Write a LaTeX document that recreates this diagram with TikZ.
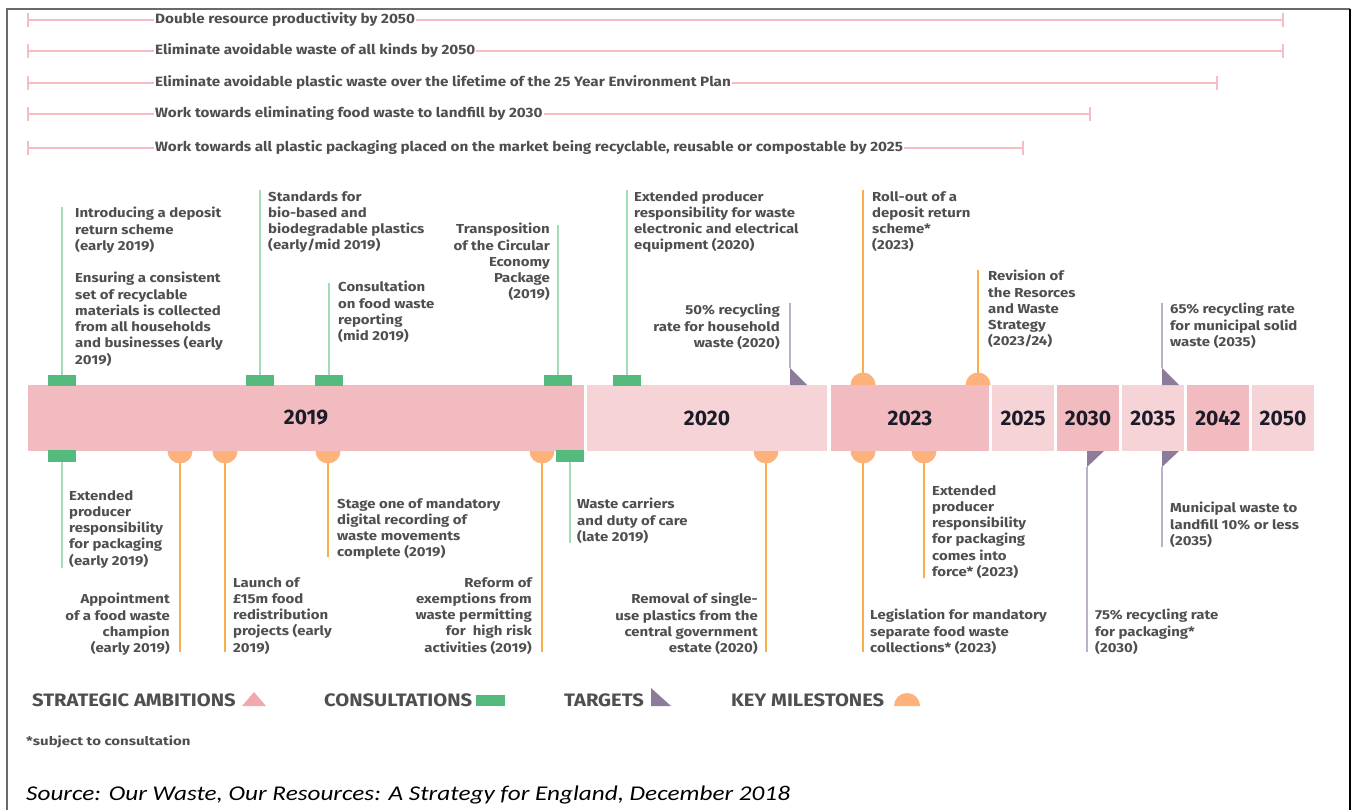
\documentclass[tikz,border=0pt]{standalone}
\usepackage{fontspec}
\setmainfont{Fira Sans}
\newfontfamily\labfont{Fira Sans}[FakeStretch=1.15]
\newfontfamily\ambfont{Fira Sans}[FakeStretch=1.13]
\newfontfamily\legfont{Fira Sans}[FakeStretch=1.12]
\newfontfamily\notefont{Fira Sans}[FakeStretch=1.25]
\newfontfamily\srcfont{Carlito}[FakeStretch=1.2]

\definecolor{frameline}{HTML}{6A6A6A}
\definecolor{ambline}{HTML}{F6BDC4}
\definecolor{bardark}{HTML}{F2BBBF}
\definecolor{barlight}{HTML}{F6D3D6}
\definecolor{consgreen}{HTML}{55BA7E}
\definecolor{consline}{HTML}{A5DBB6}
\definecolor{milefill}{HTML}{FDB27C}
\definecolor{mileline}{HTML}{F8AE4C}
\definecolor{tgtfill}{HTML}{8D7B9B}
\definecolor{tgtline}{HTML}{BDB0C8}
\definecolor{labgray}{HTML}{4F4F4F}
\definecolor{yeartext}{HTML}{1C1C28}
\definecolor{ambmark}{HTML}{F2A9AE}

\tikzset{
  lab/.style={font=\labfont\bfseries\fontsize{13}{16.3}\selectfont, text=labgray,
              inner sep=0pt, align=left},
  labl/.style={lab, anchor=north west},
  labr/.style={lab, align=right, anchor=north east},
  ambtext/.style={font=\ambfont\bfseries\fontsize{13.5}{15}\selectfont, text=labgray,
                  fill=white, inner xsep=1pt, inner ysep=0pt, anchor=west},
  ambrule/.style={ambline, line width=1.4pt},
  yearlab/.style={font=\bfseries\fontsize{21}{23}\selectfont, text=yeartext},
  consstem/.style={consline, line width=1.4pt},
  milestem/.style={mileline, line width=1.4pt},
  tgtstem/.style={tgtline, line width=1.4pt},
  legtext/.style={font=\legfont\bfseries\fontsize{18}{20}\selectfont, text=labgray,
                  inner sep=0pt, anchor=base west},
}

\begin{document}
\begin{tikzpicture}[x=1pt,y=-1pt]
\useasboundingbox (0,0) rectangle (1354,810);
\fill[white] (0,0) rectangle (1354,810);

% outer frame
\draw[frameline, line width=1.5pt] (7,810) -- (7,9) -- (1350,9);
\draw[black, line width=1.5pt] (1350,9) -- (1350,810);

% strategic ambitions
\foreach \yy/\xe/\txt in {
  20/1283/{Double resource productivity by 2050},
  51/1283/{Eliminate avoidable waste of all kinds by 2050},
  83/1217/{Eliminate avoidable plastic waste over the lifetime of the 25 Year Environment Plan},
  114/1090/{Work towards eliminating food waste to landfill by 2030},
  148/1023/{Work towards all plastic packaging placed on the market being recyclable, reusable or compostable by 2025}}{
  \coordinate (as) at (28,\yy);
  \coordinate (ae) at (\xe,\yy);
  \draw[ambrule] (as) -- (ae);
  \draw[ambrule] ([yshift=-7pt]as) -- ([yshift=7pt]as);
  \draw[ambrule] ([yshift=-7pt]ae) -- ([yshift=7pt]ae);
  \node[ambtext] at (154,\yy) {\txt};
}

% timeline bar
\foreach \xa/\xb/\col/\yr in {
  28/584/bardark/2019, 587/827/barlight/2020, 831/989/bardark/2023,
  992/1054/barlight/2025, 1057/1119/bardark/2030, 1122/1184/barlight/2035,
  1187/1249/bardark/2042, 1252/1314/barlight/2050}{
  \fill[\col] (\xa,385) rectangle (\xb,451);
  \node[yearlab] (y\yr) at ({(\xa+\xb)/2},418) {\yr};
}

% consultations above the bar
\foreach \xx/\yt in {62/207, 260/190, 329/283, 558/225, 627/190}{
  \coordinate (ct) at (\xx,\yt);
  \coordinate (cb) at (\xx,375);
  \draw[consstem] (ct) -- (cb);
  \fill[consgreen] (\xx-14,375) rectangle (\xx+14,386);
}
% consultations below the bar
\foreach \xx/\yb in {62/568, 570/543}{
  \coordinate (ct) at (\xx,462);
  \coordinate (cb) at (\xx,\yb);
  \draw[consstem] (ct) -- (cb);
  \fill[consgreen] (\xx-14,450) rectangle (\xx+14,462);
}

% key milestones above the bar
\foreach \xx/\yt in {863/190, 978/270}{
  \coordinate (mt) at (\xx,\yt);
  \coordinate (mb) at (\xx,380);
  \draw[milestem] (mt) -- (mb);
  \fill[milefill] (\xx-12.5,385) arc[start angle=180, end angle=360, radius=12.5] -- cycle;
}
% key milestones below the bar
\foreach \xx/\yb in {180/652, 225/652, 328/557, 542/652, 766/652, 863/652, 924/578}{
  \coordinate (mt) at (\xx,456);
  \coordinate (mb) at (\xx,\yb);
  \draw[milestem] (mt) -- (mb);
  \fill[milefill] (\xx-12.5,451) arc[start angle=180, end angle=0, radius=12.5] -- cycle;
}

% targets above the bar
\foreach \xx in {790, 1162}{
  \coordinate (tt) at (\xx,303);
  \coordinate (tb) at (\xx,368);
  \draw[tgtstem] (tt) -- (tb);
  \fill[tgtfill] (\xx,368) -- (\xx,385) -- (\xx+17,385) -- cycle;
}
% targets below the bar
\foreach \xx/\yb in {1087/652, 1162/547}{
  \coordinate (tt) at (\xx,467);
  \coordinate (tb) at (\xx,\yb);
  \draw[tgtstem] (tt) -- (tb);
  \fill[tgtfill] (\xx,451) -- (\xx+17,451) -- (\xx,467) -- cycle;
}

% labels above the bar
\node[labl] (l1) at (75,207) {Introducing a deposit\\return scheme\\(early 2019)};
\node[labl] (l2) at (75,272) {Ensuring a consistent\\set of recyclable\\materials is collected\\from all households\\and businesses (early\\2019)};
\node[labl] (l3) at (268,191) {Standards for\\bio-based and\\biodegradable plastics\\(early/mid 2019)};
\node[labl] (l4) at (338,281) {Consultation\\on food waste\\reporting\\(mid 2019)};
\node[labr] (l5) at (550,223) {Transposition\\of the Circular\\Economy\\Package\\(2019)};
\node[labl] (l6) at (634,191) {Extended producer\\responsibility for waste\\electronic and electrical\\equipment (2020)};
\node[labr] (l7) at (780,304) {50\% recycling\\rate for household\\waste (2020)};
\node[labl] (l8) at (872,191) {Roll-out of a\\deposit return\\scheme*\\(2023)};
\node[labl] (l9) at (988,270) {Revision of\\the Resorces\\and Waste\\Strategy\\(2023/24)};
\node[labl] (l10) at (1170,303) {65\% recycling rate\\for municipal solid\\waste (2035)};

% labels below the bar
\node[labl] (b1) at (69,490) {Extended\\producer\\responsibility\\for packaging\\(early 2019)};
\node[labr] (b2) at (170,593) {Appointment\\of a food waste\\champion\\(early 2019)};
\node[labl] (b3) at (233,577) {Launch of\\£15m food\\redistribution\\projects (early\\2019)};
\node[labl] (b4) at (337,498) {Stage one of mandatory\\digital recording of\\waste movements\\complete (2019)};
\node[labr] (b5) at (532,577) {Reform of\\exemptions from\\waste permitting\\for~ high risk\\activities (2019)};
\node[labl] (b6) at (577,498) {Waste carriers\\and duty of care\\(late 2019)};
\node[labr] (b7) at (758,593) {Removal of single-\\use plastics from the\\central government\\estate (2020)};
\node[labl] (b8) at (932,485) {Extended\\producer\\responsibility\\for packaging\\comes into\\force* (2023)};
\node[labl] (b9) at (870,609) {Legislation for mandatory\\separate food waste\\collections* (2023)};
\node[labl] (b10) at (1095,609) {75\% recycling rate\\for packaging*\\(2030)};
\node[labl] (b11) at (1170,502) {Municipal waste to\\landfill 10\% or less\\(2035)};

% legend
\node[legtext] (k1) at (32,706) {STRATEGIC AMBITIONS};
\fill[ambmark] (242,706) -- (266,706) -- (254,692) -- cycle;
\node[legtext] (k2) at (324,706) {CONSULTATIONS};
\fill[consgreen] (476,695) rectangle (505,706);
\node[legtext] (k3) at (564,706) {TARGETS};
\fill[tgtfill] (651,688) -- (651,706) -- (671,706) -- cycle;
\node[legtext] (k4) at (731,706) {KEY MILESTONES};
\fill[milefill] (894,706) arc[start angle=180, end angle=360, radius=13] -- cycle;

\node[font=\notefont\bfseries\fontsize{12}{14}\selectfont, text=labgray, inner sep=0pt, anchor=base west] (note) at (26,745) {*subject to consultation};

\node[font=\srcfont\itshape\fontsize{21}{24}\selectfont, text=black, inner sep=0pt, anchor=base west] (src) at (26,800) {Source: Our Waste, Our Resources: A Strategy for England, December 2018};
\end{tikzpicture}
\end{document}
